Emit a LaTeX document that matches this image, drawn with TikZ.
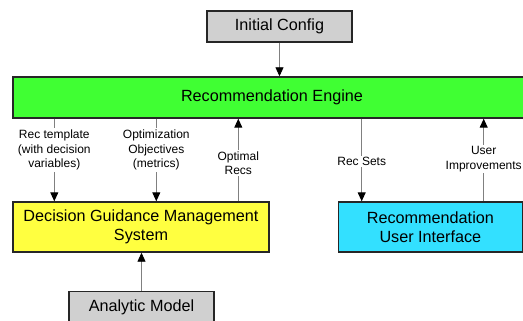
\documentclass[tikz,border=0pt]{standalone}
\usepackage{fontspec}
\setmainfont{Liberation Sans}
\usetikzlibrary{arrows.meta, positioning}

\definecolor{cfggray}{HTML}{D0D0D0}
\definecolor{enggreen}{HTML}{40FF33}
\definecolor{dgmyellow}{HTML}{FFFF40}
\definecolor{uicyan}{HTML}{33E0FF}
\definecolor{wiregray}{HTML}{808080}

\begin{document}
\begin{tikzpicture}[
	x=1pt, y=-1pt,
	box/.style={draw=black!85, line width=1.4pt, inner sep=0pt, align=center,
		font=\fontsize{16.2}{19}\selectfont},
	lbl/.style={fill=white, align=center, inner sep=1.5pt,
		font=\fontsize{12}{14.5}\selectfont},
	flow/.style={draw=wiregray, line width=0.9pt,
		-{Triangle[color=black, length=9pt, width=8pt]}}]
\useasboundingbox (0,0) rectangle (523,321);

\node[box, fill=cfggray, minimum width=145pt, minimum height=31pt] (ic) at (279.5,26.5) {Initial Config};
\node[box, fill=enggreen, minimum width=518pt, minimum height=41pt] (engine) at (272,97.5) {Recommendation Engine};
\node[box, fill=dgmyellow, minimum width=256pt, minimum height=50pt] (dgms) at (141,227) {Decision Guidance Management\\System};
\node[box, fill=uicyan, minimum width=184pt, minimum height=50pt, right=68pt of dgms] (rui) {Recommendation\\User Interface};
\node[box, fill=cfggray, minimum width=145pt, minimum height=31pt, below=38pt of dgms, xshift=0.5pt] (am) {Analytic Model};

% feed points on the lower boxes
\coordinate (tmpl) at ([xshift=42pt]dgms.north west);
\coordinate (objs) at ([xshift=144pt]dgms.north west);
\coordinate (opt) at ([xshift=226pt]dgms.north west);
\coordinate (rs) at ([xshift=24pt]rui.north west);
\coordinate (uimp) at ([xshift=146pt]rui.north west);

\draw[flow] (ic) -- (ic |- engine.north);

\draw[flow] (engine.south -| tmpl) -- (tmpl)
	node[lbl, pos=0.38] {Rec template\\(with decision\\variables)};
\draw[flow] (engine.south -| objs) -- (objs)
	node[lbl, pos=0.38] {Optimization\\Objectives\\(metrics)};
\draw[flow] (opt) -- (engine.south -| opt)
	node[lbl, pos=0.46] {Optimal\\Recs};

\draw[flow] (engine.south -| rs) -- (rs)
	node[lbl, pos=0.52] {Rec Sets};
\draw[flow] (uimp) -- (engine.south -| uimp)
	node[lbl, pos=0.51] {User\\Improvements};

\draw[flow] (am) -- (am |- dgms.south);
\end{tikzpicture}
\end{document}
